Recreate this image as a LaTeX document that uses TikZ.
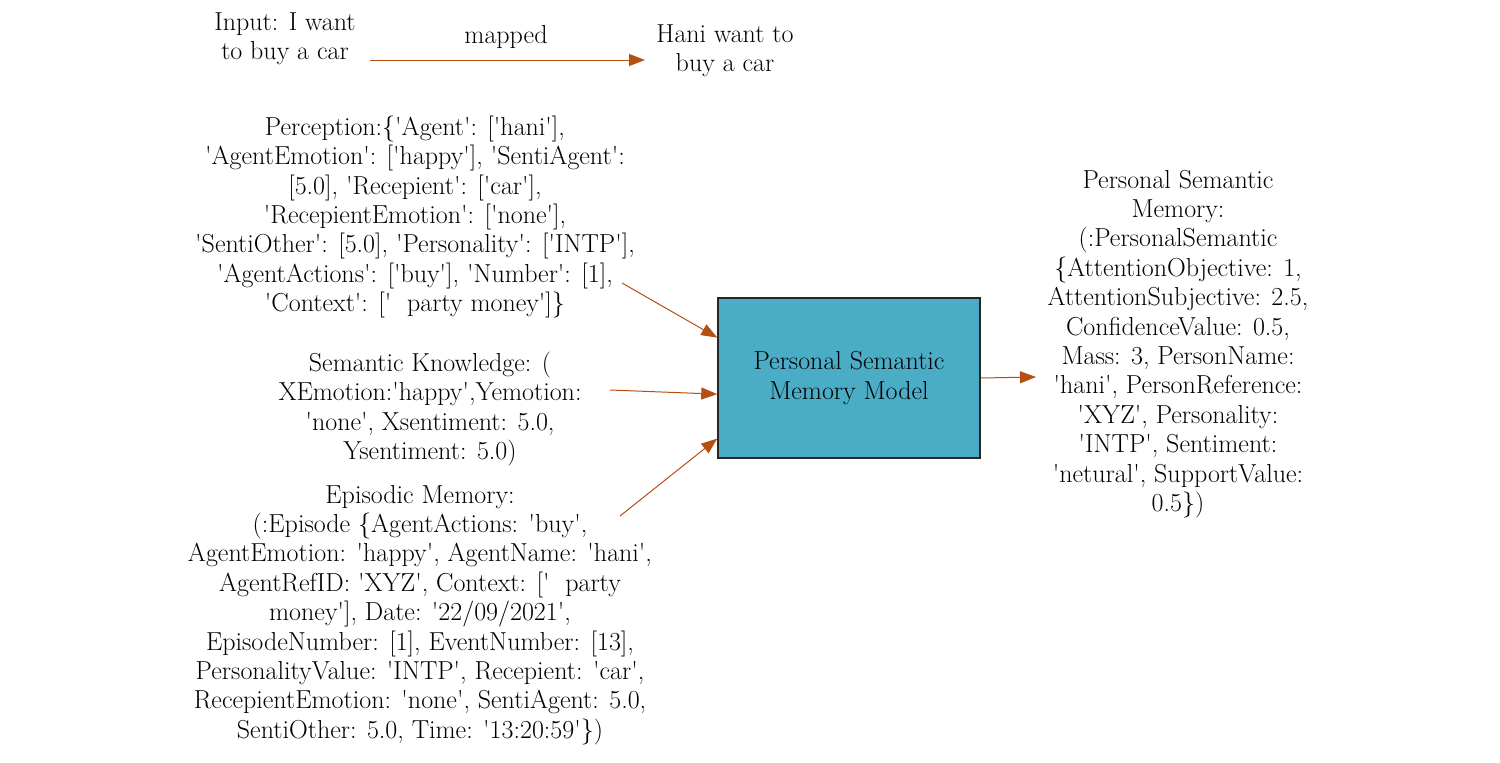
\documentclass[tikz,border=0pt]{standalone}
\usetikzlibrary{arrows.meta,calc}
\definecolor{arr}{RGB}{181,80,18}
\definecolor{boxfill}{RGB}{75,172,198}
\newcommand\q{\textquotesingle}
\begin{document}
\begin{tikzpicture}[x=1pt,y=-1pt,
  txt/.style={inner sep=0pt,align=center,font=\fontsize{26}{29.4}\selectfont},
  conn/.style={draw=arr,line width=1pt,-{Triangle[length=16pt,width=12pt]}}]
\useasboundingbox (0,0) rectangle (1500,763);
\node[txt] (input) at (285,39) {Input: I want\\to buy a car};
\node[txt] (hani) at (725,51) {Hani want to\\buy a car};
\node[txt] (mapped) at (506,37) {mapped};
\coordinate (istart) at (370,60);
\coordinate (iend) at (645,60);
\draw[conn] (istart) -- (iend);

\node[txt] (perc) at (415,217) {Perception:\{\q Agent\q: [\q hani\q],\\
\q AgentEmotion\q: [\q happy\q], \q SentiAgent\q:\\
{[}5.0], \q Recepient\q: [\q car\q],\\
\q RecepientEmotion\q: [\q none\q],\\
\q SentiOther\q: [5.0], \q Personality\q: [\q INTP\q],\\
\q AgentActions\q: [\q buy\q], \q Number\q: [1],\\
\q Context\q: [\q\ \ party money\q]\}};

\node[txt] (sem) at (430,409) {Semantic Knowledge: (\\
XEmotion:\q happy\q,Yemotion:\\
\q none\q, Xsentiment: 5.0,\\
Ysentiment: 5.0)};

\node[txt] (epi) at (420,615) {Episodic Memory:\\
(:Episode \{AgentActions: \q buy\q,\\
AgentEmotion: \q happy\q, AgentName: \q hani\q,\\
AgentRefID: \q XYZ\q, Context: [\q\ \ party\\
money\q], Date: \q 22/09/2021\q,\\
EpisodeNumber: [1], EventNumber: [13],\\
PersonalityValue: \q INTP\q, Recepient: \q car\q,\\
RecepientEmotion: \q none\q, SentiAgent: 5.0,\\
SentiOther: 5.0, Time: \q 13:20:59\q\})};

\node[draw=black!85,line width=1.5pt,fill=boxfill,minimum width=262pt,minimum height=160pt,inner sep=0pt,align=center,font=\fontsize{26}{29.4}\selectfont] (box) at (849,378) {Personal Semantic\\Memory Model};

\node[txt] (psm) at (1178,344) {Personal Semantic\\
Memory:\\
(:PersonalSemantic\\
\{AttentionObjective: 1,\\
AttentionSubjective: 2.5,\\
ConfidenceValue: 0.5,\\
Mass: 3, PersonName:\\
\q hani\q, PersonReference:\\
\q XYZ\q, Personality:\\
\q INTP\q, Sentiment:\\
\q netural\q, SupportValue:\\
0.5\})};

\coordinate (pstart) at (622,283);
\coordinate (sstart) at (610,390);
\coordinate (estart) at (620,516);
\coordinate (oend) at (1036,377);
\draw[conn] (pstart) -- ($(box.north west)!0.25!(box.south west)$);
\draw[conn] (sstart) -- ($(box.north west)!0.6!(box.south west)$);
\draw[conn] (estart) -- ($(box.north west)!0.875!(box.south west)$);
\draw[conn] (box.east) -- (oend);
\end{tikzpicture}
\end{document}
